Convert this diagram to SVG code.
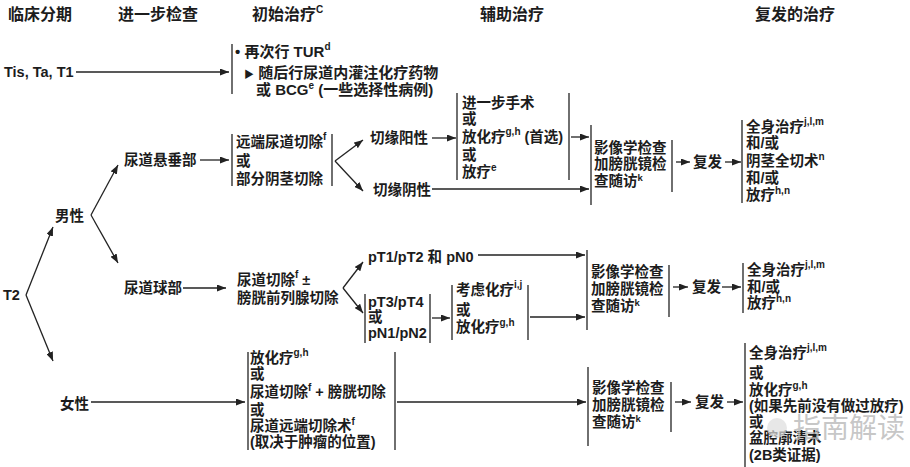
<svg xmlns="http://www.w3.org/2000/svg" width="910" height="467" viewBox="0 0 910 467">
<defs>
<marker id="a" markerWidth="9" markerHeight="7" refX="9" refY="3.5" orient="auto" markerUnits="userSpaceOnUse"><path d="M0,0 L9,3.5 L0,7 z" fill="#222"/></marker>
<style>
text{font-family:"Liberation Sans","Noto Sans CJK SC",sans-serif;font-weight:bold;font-size:14.5px;fill:#1c1c1c}
.h{font-size:16px}
.b{font-size:15px}
.s{font-size:10px}
.k{font-size:9.5px}
.ln{stroke:#222;stroke-width:1.3;fill:none}
.ar{marker-end:url(#a)}
.wm{font-weight:normal;font-size:28px;fill:#b8b8b8;fill-opacity:0.8}
</style>
</defs>
<rect width="910" height="467" fill="#fff"/>

<g id="headers">
<text class="h" x="8" y="20">临床分期</text>
<text class="h" x="118" y="20">进一步检查</text>
<text class="h" x="252" y="20">初始治疗<tspan class="s" dy="-7">C</tspan></text>
<text class="h" x="480" y="20">辅助治疗</text>
<text class="h" x="755" y="20">复发的治疗</text>
</g>

<g id="connectors">
<line class="ln ar" x1="76" y1="72" x2="229" y2="72"/>
<line class="ln ar" x1="26" y1="295" x2="53" y2="227"/>
<line class="ln ar" x1="26" y1="295" x2="53" y2="361"/>
<line class="ln ar" x1="91" y1="215" x2="118" y2="165"/>
<line class="ln ar" x1="91" y1="215" x2="118" y2="263"/>
<line class="ln ar" x1="200" y1="160" x2="229" y2="160"/>
<line class="ln ar" x1="335" y1="161" x2="363" y2="140"/>
<line class="ln ar" x1="335" y1="161" x2="363" y2="191"/>
<line class="ln ar" x1="432" y1="138" x2="456" y2="138"/>
<line class="ln ar" x1="571" y1="137" x2="589" y2="137"/>
<line class="ln ar" x1="432" y1="189" x2="589" y2="189"/>
<line class="ln ar" x1="676" y1="162" x2="690" y2="162"/>
<line class="ln ar" x1="725" y1="162" x2="741" y2="162"/>
<line class="ln ar" x1="183" y1="288" x2="226" y2="288"/>
<line class="ln ar" x1="343" y1="288" x2="363" y2="262"/>
<line class="ln ar" x1="343" y1="288" x2="363" y2="313"/>
<line class="ln ar" x1="478" y1="255" x2="585" y2="255"/>
<line class="ln ar" x1="432" y1="318" x2="450" y2="318"/>
<line class="ln ar" x1="530" y1="317" x2="585" y2="317"/>
<line class="ln ar" x1="673" y1="287" x2="688" y2="287"/>
<line class="ln ar" x1="722" y1="287" x2="741" y2="287"/>
<line class="ln ar" x1="91" y1="402" x2="245" y2="402"/>
<line class="ln ar" x1="397" y1="402" x2="586" y2="402"/>
<line class="ln ar" x1="675" y1="402" x2="691" y2="402"/>
<line class="ln ar" x1="727" y1="402" x2="743" y2="402"/>
</g>

<g id="n-tis"><text x="4" y="77">Tis, Ta, T1</text></g>

<g id="n-init1">
<line class="ln" x1="232" y1="44" x2="232" y2="94"/>
<text class="b" x="235" y="57">• 再次行 TUR<tspan class="s" dy="-7">d</tspan></text>
<text class="b" x="244" y="78"><tspan font-size="10">▶</tspan> 随后行尿道内灌注化疗药物</text>
<text class="b" x="256" y="95">或 BCG<tspan class="s" dy="-6">e</tspan><tspan dy="6"> (一些选择性病例)</tspan></text>
</g>

<g id="n-t2"><text x="3" y="300">T2</text></g>
<g id="n-male"><text x="55" y="221">男性</text></g>
<g id="n-female"><text x="60" y="409">女性</text></g>
<g id="n-pendulous"><text x="124" y="165">尿道悬垂部</text></g>
<g id="n-bulbar"><text x="124" y="293">尿道球部</text></g>

<g id="n-init2">
<line class="ln" x1="232" y1="134" x2="232" y2="186"/>
<line class="ln" x1="332" y1="134" x2="332" y2="186"/>
<text x="236" y="147">远端尿道切除<tspan class="s" dy="-7">f</tspan></text>
<text x="236" y="166">或</text>
<text x="236" y="184">部分阴茎切除</text>
</g>

<g id="n-pos"><text x="370" y="143">切缘阳性</text></g>
<g id="n-neg"><text x="373" y="195">切缘阴性</text></g>

<g id="n-adj1">
<line class="ln" x1="457" y1="93" x2="457" y2="180"/>
<line class="ln" x1="569" y1="93" x2="569" y2="180"/>
<text x="462" y="108">进一步手术</text>
<text x="462" y="124">或</text>
<text x="462" y="142">放化疗<tspan class="s" dy="-7">g,h</tspan><tspan dy="7"> (首选)</tspan></text>
<text x="462" y="160">或</text>
<text x="462" y="177">放疗<tspan class="s" dy="-6">e</tspan></text>
</g>

<g id="n-fu1">
<line class="ln" x1="591" y1="125" x2="591" y2="205"/>
<line class="ln" x1="672" y1="140" x2="672" y2="192"/>
<text x="594" y="153">影像学检查</text>
<text x="594" y="169">加膀胱镜检</text>
<text x="594" y="186">查随访<tspan class="k" dy="-5">k</tspan></text>
</g>
<g id="n-rec1"><text x="693" y="167">复发</text></g>
<g id="n-tx1">
<line class="ln" x1="742" y1="120" x2="742" y2="203"/>
<text x="746" y="132">全身治疗<tspan class="s" dy="-7">j,l,m</tspan></text>
<text x="746" y="148">和/或</text>
<text x="746" y="166">阴茎全切术<tspan class="s" dy="-6">n</tspan></text>
<text x="746" y="183">和/或</text>
<text x="746" y="200">放疗<tspan class="s" dy="-6">h,n</tspan></text>
</g>

<g id="n-init3">
<text x="237" y="285">尿道切除<tspan class="s" dy="-7">f</tspan><tspan dy="7"> ±</tspan></text>
<text x="237" y="303">膀胱前列腺切除</text>
</g>
<g id="n-pt12"><text x="368" y="262">pT1/pT2 和 pN0</text></g>
<g id="n-pt34">
<line class="ln" x1="365" y1="294" x2="365" y2="343"/>
<line class="ln" x1="430" y1="294" x2="430" y2="343"/>
<text x="368" y="307">pT3/pT4</text>
<text x="368" y="322">或</text>
<text x="368" y="338">pN1/pN2</text>
</g>
<g id="n-adj2">
<line class="ln" x1="452" y1="285" x2="452" y2="340"/>
<line class="ln" x1="528" y1="285" x2="528" y2="340"/>
<text x="456" y="295">考虑化疗<tspan class="s" dy="-7">i,j</tspan></text>
<text x="456" y="315">或</text>
<text x="456" y="332">放化疗<tspan class="s" dy="-6">g,h</tspan></text>
</g>
<g id="n-fu2">
<line class="ln" x1="587" y1="250" x2="587" y2="330"/>
<line class="ln" x1="669" y1="265" x2="669" y2="317"/>
<text x="591" y="277">影像学检查</text>
<text x="591" y="294">加膀胱镜检</text>
<text x="591" y="311">查随访<tspan class="k" dy="-5">k</tspan></text>
</g>
<g id="n-rec2"><text x="692" y="292">复发</text></g>
<g id="n-tx2">
<line class="ln" x1="743" y1="263" x2="743" y2="313"/>
<text x="747" y="275">全身治疗<tspan class="s" dy="-7">j,l,m</tspan></text>
<text x="747" y="292">和/或</text>
<text x="747" y="308">放疗<tspan class="s" dy="-6">h,n</tspan></text>
</g>

<g id="n-init4">
<line class="ln" x1="248" y1="352" x2="248" y2="450"/>
<line class="ln" x1="395" y1="352" x2="395" y2="450"/>
<text x="250" y="363">放化疗<tspan class="s" dy="-7">g,h</tspan></text>
<text x="250" y="379">或</text>
<text x="250" y="397">尿道切除<tspan class="s" dy="-6">f</tspan><tspan dy="6"> + 膀胱切除</tspan></text>
<text x="250" y="415">或</text>
<text x="250" y="431">尿道远端切除术<tspan class="s" dy="-6">f</tspan></text>
<text x="250" y="447">(取决于肿瘤的位置)</text>
</g>
<g id="n-fu3">
<line class="ln" x1="588" y1="367" x2="588" y2="446"/>
<line class="ln" x1="671" y1="382" x2="671" y2="432"/>
<text x="592" y="393">影像学检查</text>
<text x="592" y="410">加膀胱镜检</text>
<text x="592" y="427">查随访<tspan class="k" dy="-5">k</tspan></text>
</g>
<g id="n-rec3"><text x="695" y="407">复发</text></g>
<g id="n-tx3">
<line class="ln" x1="745" y1="343" x2="745" y2="467"/>
<text x="749" y="358">全身治疗<tspan class="s" dy="-7">j,l,m</tspan></text>
<text x="749" y="378">或</text>
<text x="749" y="395">放化疗<tspan class="s" dy="-6">g,h</tspan></text>
<text x="749" y="411">(如果先前没有做过放疗)</text>
<text x="749" y="427">或</text>
<text x="749" y="443">盆腔廓清术</text>
<text x="749" y="460">(2B类证据)</text>
</g>

<g id="watermark">
<circle cx="777" cy="428" r="10" fill="#ddd" fill-opacity="0.7"/>
<text class="wm" x="793" y="438">指南解读</text>
</g>
</svg>
